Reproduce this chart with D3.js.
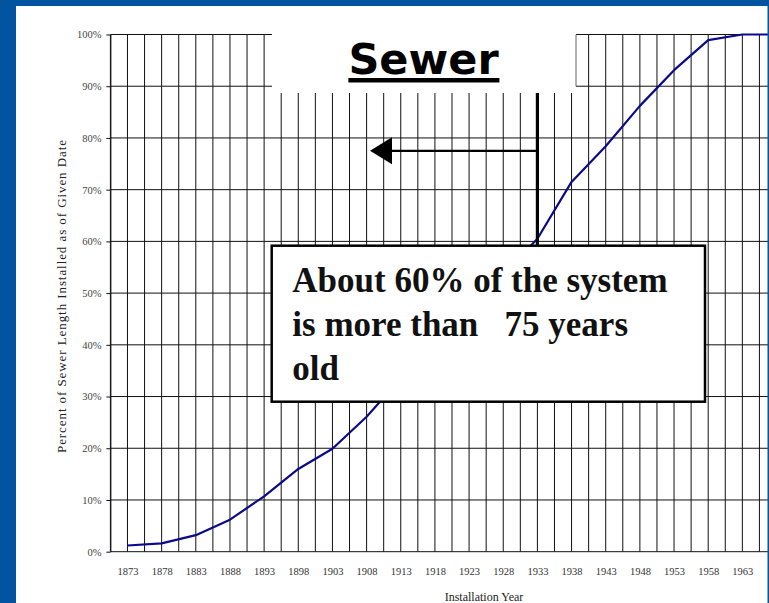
<!DOCTYPE html>
<html>
<head>
<meta charset="utf-8">
<script src="https://cdn.jsdelivr.net/npm/d3@7"></script>
<style>
body{margin:0;background:#fff}
svg{display:block}
</style>
</head>
<body>
<div id="chart"></div>
<script>
// data (percent installed as of the year)
var years   = [1873,1878,1883,1888,1893,1898,1903,1908,1913,1918,1923,1928,1933,1938,1943,1948,1953,1958,1963,1968];
var percent = [1.2, 1.6, 3.2, 6.2, 10.7,16.0,19.9,26.1,33.5,40.0,46.5,53.5,60.5,71.5,78.4,86.2,93.1,98.9,100, 100];
var xLabels = [1873,1878,1883,1888,1893,1898,1903,1908,1913,1918,1923,1928,1933,1938,1943,1948,1953,1958,1963];
var yTicks  = [0,10,20,30,40,50,60,70,80,90,100];
var noteLines = ["About 60% of the system","is more than   75 years","old"];

var width=769, height=603,
    serif="'Liberation Serif','Times New Roman',serif",
    blue="#0253a0";

var x=d3.scaleLinear().domain([1870.5,1966.9]).range([110.4,769]);
var y=d3.scaleLinear().domain([0,100]).range([551.7,34.5]);
// category grid : one line every 2.5 years, starting at the value axis
var gridYears=d3.range(1870.5,1968,2.5);

var svg=d3.select("#chart").append("svg")
  .attr("width",width).attr("height",height);
svg.append("rect").attr("width",width).attr("height",height).attr("fill","#fff");

// grille
var grid=svg.append("g").attr("stroke","#111").attr("stroke-width",1);
grid.selectAll("line.v").data(gridYears).enter().append("line").attr("class","v")
  .attr("x1",d=>x(d)).attr("x2",d=>x(d)).attr("y1",y(100)).attr("y2",y(0));
grid.selectAll("line.h").data(yTicks).enter().append("line").attr("class","h")
  .attr("x1",x(1870.5)).attr("x2",width).attr("y1",d=>y(d)).attr("y2",d=>y(d));

// axe des y
var yAxis=d3.axisLeft(y).tickValues(yTicks).tickFormat(d=>d+"%").tickSize(4).tickSizeOuter(0).tickPadding(5);
var gy=svg.append("g").attr("transform","translate("+x(1870.5)+",0)").call(yAxis);
gy.select(".domain").attr("stroke","#111");
gy.selectAll("line").attr("stroke","#111");
gy.selectAll("text").attr("font-family",serif).attr("font-size",10.5).attr("fill","#444");

// axe des x
var xAxis=d3.axisBottom(x).tickValues(xLabels).tickFormat(d3.format("d")).tickSize(0).tickPadding(16);
var gx=svg.append("g").attr("transform","translate(0,"+y(0)+")").call(xAxis);
gx.select(".domain").remove();
gx.selectAll("text").attr("font-family",serif).attr("font-size",10.5).attr("fill","#333");

// titres des axes
svg.append("text")
  .attr("transform","translate(66,296.5) rotate(-90)")
  .attr("text-anchor","middle")
  .attr("font-family",serif).attr("font-size",13).attr("fill","#222")
  .attr("textLength",313).attr("lengthAdjust","spacing")
  .text("Percent of Sewer Length Installed as of Given Date");
svg.append("text")
  .attr("x",484).attr("y",601)
  .attr("text-anchor","middle")
  .attr("font-family",serif).attr("font-size",12).attr("fill","#222")
  .text("Installation Year");

// courbe
var data=years.map((d,i)=>({year:d,value:percent[i]}));
var line=d3.line().x(d=>x(d.year)).y(d=>y(d.value));
svg.append("path").datum(data)
  .attr("d",line)
  .attr("fill","none").attr("stroke","#0b0b8a").attr("stroke-width",2.2)
  .attr("stroke-linejoin","round");

// cadre du titre (masque la grille)
svg.append("rect").attr("x",272).attr("y",6).attr("width",304).attr("height",87).attr("fill","#fff");
svg.append("line").attr("x1",576).attr("x2",576).attr("y1",y(100)).attr("y2",y(90))
  .attr("stroke","#666").attr("stroke-width",1);
var title=svg.append("text")
  .attr("x",423.5).attr("y",74.3)
  .attr("text-anchor","middle")
  .attr("font-family","'DejaVu Sans',Verdana,sans-serif").attr("font-weight","bold")
  .attr("font-size",43).attr("fill","#000")
  .text("Sewer");
var tb=title.node().getBBox();
svg.append("rect").attr("x",tb.x).attr("y",78).attr("width",tb.width).attr("height",4.5).attr("fill","#000");

// annotation : trait vertical + fleche
var ax=x(1933), ay=y(77.5);
svg.append("line").attr("x1",ax).attr("x2",ax).attr("y1",93).attr("y2",246)
  .attr("stroke","#000").attr("stroke-width",3.2);
svg.append("line").attr("x1",ax).attr("x2",388).attr("y1",ay).attr("y2",ay)
  .attr("stroke","#000").attr("stroke-width",2.2);
svg.append("path")
  .attr("d","M370,"+ay+" L392,"+(ay-13.5)+" L392,"+(ay+13.5)+" Z")
  .attr("fill","#000");

// boite de texte
svg.append("rect").attr("x",271.7).attr("y",245.7).attr("width",433.3).attr("height",156)
  .attr("fill","#fff").attr("stroke","#000").attr("stroke-width",2.5);
svg.append("g").selectAll("text").data(noteLines).enter().append("text")
  .attr("x",292.3).attr("y",(d,i)=>292.3+i*43.9)
  .attr("font-family",serif).attr("font-weight","bold").attr("font-size",35).attr("fill","#111")
  .style("white-space","pre")
  .text(d=>d);

// bordure bleue de la diapo
svg.append("rect").attr("x",0).attr("y",0).attr("width",16).attr("height",height).attr("fill",blue);
svg.append("rect").attr("x",0).attr("y",0).attr("width",width).attr("height",6).attr("fill",blue);
svg.append("rect").attr("x",767.5).attr("y",0).attr("width",1.5).attr("height",height).attr("fill",blue);
</script>
</body>
</html>
